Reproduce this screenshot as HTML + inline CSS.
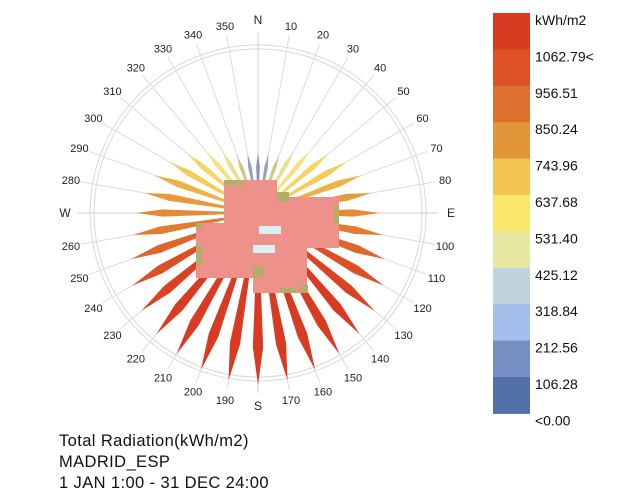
<!DOCTYPE html>
<html><head><meta charset="utf-8"><style>
html,body{margin:0;padding:0;background:#fff;}
body{width:629px;height:497px;overflow:hidden;position:relative;font-family:"Liberation Sans","DejaVu Sans",sans-serif;}
</style></head><body>
<svg id="s" width="629" height="497" viewBox="0 0 629 497" xmlns="http://www.w3.org/2000/svg" style="position:absolute;left:0;top:0">
</svg>
<script>
var s=document.getElementById('s'),NS='http://www.w3.org/2000/svg';
function el(t,a,txt){var e=document.createElementNS(NS,t);for(var k in a)e.setAttribute(k,a[k]);if(txt!=null)e.textContent=txt;s.appendChild(e);return e;}
var cx=258,cy=213;
function pt(deg,r){var a=deg*Math.PI/180;return [cx+r*Math.sin(a),cy-r*Math.cos(a)];}
el('circle',{cx:cx,cy:cy,r:168,fill:'none',stroke:'#d8d8d8','stroke-width':1});
el('circle',{cx:cx,cy:cy,r:164,fill:'none',stroke:'#d8d8d8','stroke-width':1});
for(var d=0;d<360;d+=10){var p=pt(d,180);el('line',{x1:cx,y1:cy,x2:p[0],y2:p[1],stroke:(d==0||d==90||d==180||d==270)?'#cfcfcf':'#dcdcdc','stroke-width':1});}
var w={0:[60,'#8a8fb0'],10:[60,'#9aa0b8'],20:[62,'#c9c98a'],30:[72,'#e9df8a'],40:[80,'#f5e27a'],50:[92,'#f6d564'],60:[102,'#f4cb55'],70:[110,'#efb145'],80:[115,'#e89a3a'],90:[122,'#e58a35'],100:[127,'#e27a30'],110:[135,'#df652b'],120:[145,'#dc4f25'],130:[152,'#db4222'],140:[158,'#d93a22'],150:[163,'#d93a22'],160:[167,'#d93a22'],170:[170,'#d93a22'],180:[172,'#d93a22'],
190:[170,'#d93a22'],200:[167,'#d93a22'],210:[163,'#d93a22'],220:[158,'#d93a22'],230:[152,'#db4222'],240:[145,'#dc4f25'],250:[135,'#df652b'],260:[127,'#e27a30'],270:[122,'#e58a35'],280:[115,'#e89a3a'],290:[110,'#efb145'],300:[102,'#f4cb55'],310:[92,'#f6d564'],320:[80,'#f5e27a'],330:[72,'#e9df8a'],340:[62,'#c9c98a'],350:[60,'#9aa0b8']};
for(var k in w){var a=+k,L=w[k][0],c=w[k][1];var hw=Math.max(1.8,L*0.03);
 var p1=pt(a,L),p2=pt(a,L*0.78),ar=a*Math.PI/180,nx=Math.cos(ar),ny=Math.sin(ar);
 var q1=[p2[0]+nx*hw,p2[1]+ny*hw],q2=[p2[0]-nx*hw,p2[1]-ny*hw];
 el('polygon',{points:cx+','+cy+' '+q1.join(',')+' '+p1.join(',')+' '+q2.join(','),fill:c});}
el('polygon',{points:'224,180 277,180 277,197 339,197 339,248 307,248 307,293 253,293 253,278 196,278 196,223 224,223',fill:'#ee918b'});
[[224,180,20,5],[277,192,12,10],[334,205,5,20],[196,245,6,20],[253,266,10,12],[280,288,16,5],[300,285,8,8],[196,223,6,6]].forEach(function(r){el('rect',{x:r[0],y:r[1],width:r[2],height:r[3],fill:'#b4ad6a'});});
el('rect',{x:259,y:226,width:22,height:8,fill:'#d9f0f5'});
el('rect',{x:253,y:245,width:22,height:8,fill:'#d9f0f5'});
for(var d=0;d<360;d+=10){var t=d==0?'N':d==90?'E':d==180?'S':d==270?'W':String(d);var r=(d%90==0)?193:190;var p=pt(d,r);
 el('text',{x:p[0],y:p[1]+4,'font-size':(d%90==0)?12:11,'text-anchor':'middle',fill:'#222'},t);}
var cols=['#d93a22','#dd5127','#df7130','#e3953a','#f2c552','#fae76c','#e8e6a3','#c3d3de','#a3bfeb','#7591c4','#5470a9'];
var labs=['kWh/m2','1062.79<','956.51','850.24','743.96','637.68','531.40','425.12','318.84','212.56','106.28','<0.00'];
var y0=13,h=36.4;
cols.forEach(function(c,i){el('rect',{x:493,y:y0+i*h,width:37,height:h+0.5,fill:c});});
labs.forEach(function(l,i){el('text',{x:535,y:25+i*h,'font-size':14,fill:'#111'},l);});
['Total Radiation(kWh/m2)','MADRID_ESP','1 JAN 1:00 - 31 DEC 24:00'].forEach(function(l,i){el('text',{x:59,y:446+i*21,'font-size':16.5,fill:'#111','letter-spacing':'0.4'},l);});
</script>
</body></html>
